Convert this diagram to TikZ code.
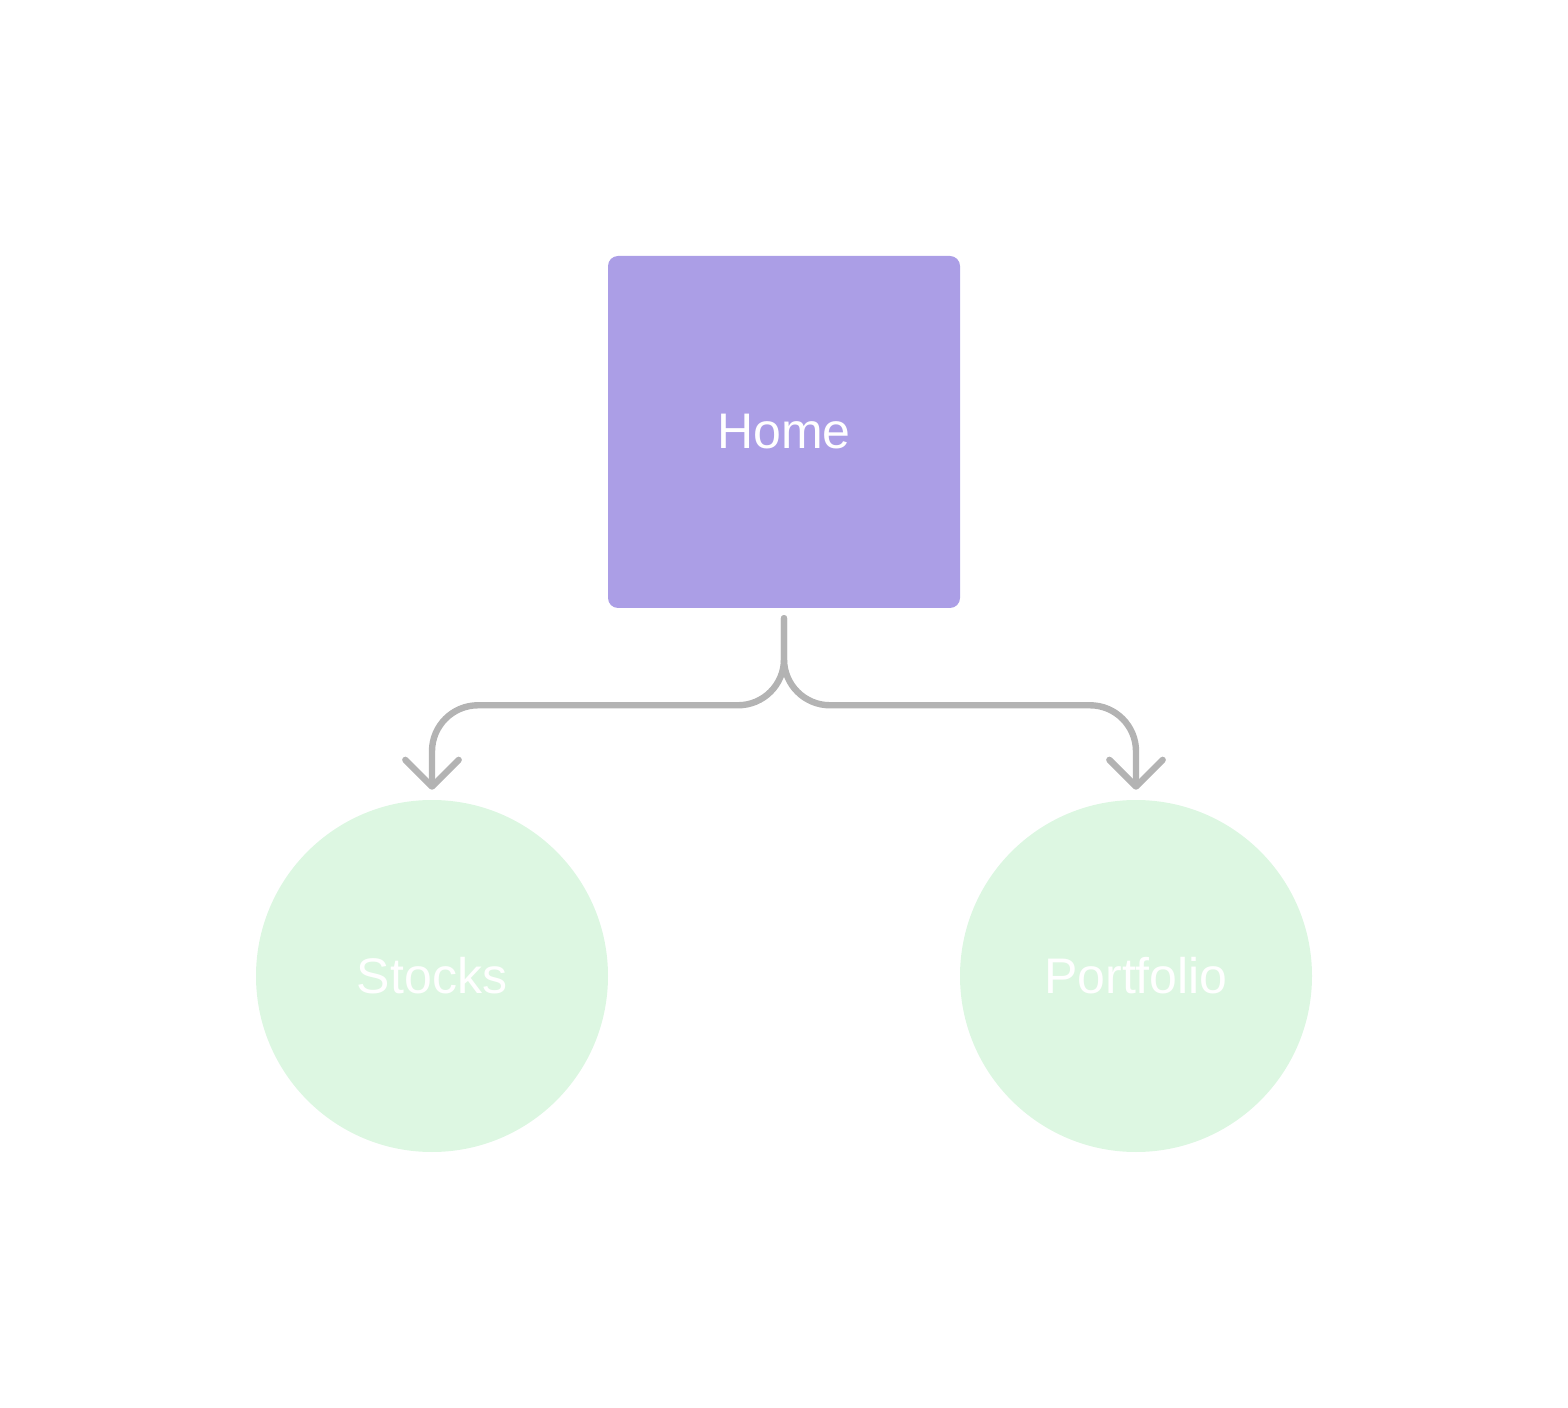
\documentclass[tikz,border=0pt]{standalone}
\usepackage{xcolor}
\usepackage{fontspec}
\setmainfont{Liberation Sans}
\usepackage{tikz}
\usetikzlibrary{arrows.meta, positioning, calc}
\definecolor{homepurple}{RGB}{171,158,230}
\definecolor{pagegreen}{RGB}{221,247,226}
\definecolor{linkgray}{RGB}{179,179,179}

\begin{document}
\begin{tikzpicture}[
    x=1pt, y=1pt,
    screen/.style={rectangle, fill=homepurple, rounded corners=7.5pt, minimum width=264pt, minimum height=264pt, inner sep=0pt, text=white, font=\fontsize{37.5}{45}\selectfont},
    page/.style={circle, fill=pagegreen, minimum size=264pt, inner sep=0pt, text=white, font=\fontsize{37.5}{45}\selectfont},
    link/.style={draw=linkgray, line width=4.8pt, line cap=round, rounded corners=34.5pt, -{Straight Barb[length=20pt, width=40pt, line cap=round, line join=round]}, shorten <=7.5pt, shorten >=7.5pt},
]

% fixed canvas
\useasboundingbox (0,0) rectangle (1176,-1056);

% Home screen
\node[screen] (home) at (588,-324) {Home};

% child pages
\node[page] (stocks) at (324,-732) {Stocks};
\node[page] (portfolio) at (852,-732) {Portfolio};

% fork below home
\coordinate (fork) at ($(home.south)+(0,-72.75)$);

\draw[link] (home.south) -- (fork) -| (stocks.north);
\draw[link] (home.south) -- (fork) -| (portfolio.north);

\end{tikzpicture}
\end{document}
